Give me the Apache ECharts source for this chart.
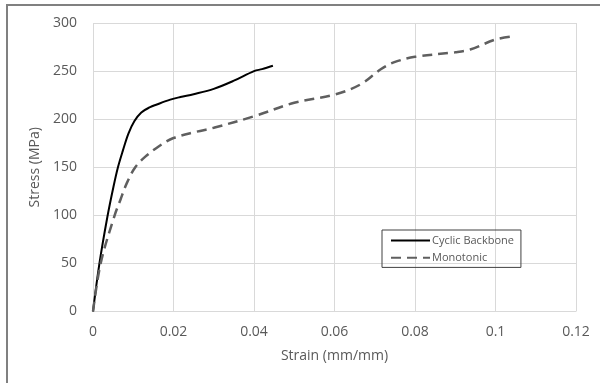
<!DOCTYPE html>
<html>
<head>
<meta charset="utf-8">
<script src="https://cdn.jsdelivr.net/npm/echarts@6/dist/echarts.min.js"></script>
<style>
  html, body { margin: 0; padding: 0; background: #fff; }
  #chart { width: 600px; height: 383px; }
</style>
</head>
<body>
<div id="chart"></div>
<script>
// stress-strain data
const cyclicStrain = [0, 0.0016, 0.0036, 0.0051, 0.0062, 0.0074, 0.0088, 0.0103, 0.0120, 0.0142, 0.0157, 0.0192, 0.0217, 0.025, 0.030, 0.035, 0.040, 0.042, 0.0447];
const cyclicStress = [0, 50, 99, 130, 150, 167, 185, 198, 207, 212.5, 215, 220.3, 223, 226, 231.5, 240, 250, 252, 255.5];

const monoStrain = [0, 0.0019, 0.0053, 0.0068, 0.0084, 0.0105, 0.013, 0.0163, 0.020, 0.0258, 0.030, 0.040, 0.050, 0.060, 0.0664, 0.0714, 0.0747, 0.080, 0.090, 0.0937, 0.100, 0.1042];
const monoStress = [0, 50, 99, 116, 133.5, 150, 161, 171.6, 180.4, 187, 191, 203, 217, 225.5, 236, 251.6, 259, 264.8, 269.6, 272.4, 282.8, 286];

const seriesNames = ['Cyclic Backbone', 'Monotonic'];
const xTickLabels = ['0', '0.02', '0.04', '0.06', '0.08', '0.1', '0.12'];

const pairs = (xs, ys) => xs.map((x, i) => [x, ys[i]]);
const font = '"Open Sans", Lato, sans-serif';
const textGrey = '#595959';

const chart = echarts.init(document.getElementById('chart'));

const option = {
  animation: false,
  textStyle: { fontFamily: font },
  graphic: [
    {
      type: 'rect',
      shape: { x: 7, y: 5, width: 700, height: 500 },
      style: { fill: 'none', stroke: '#808080', lineWidth: 2 },
      silent: true
    }
  ],
  grid: { left: 93, right: 24, top: 23, bottom: 71.5 },
  legend: {
    orient: 'vertical',
    left: 382,
    top: 230,
    data: seriesNames,
    itemWidth: 39,
    itemHeight: 14,
    itemGap: 6,
    padding: [5, 7, 4, 8],
    borderColor: '#404040',
    borderWidth: 1,
    itemStyle: { opacity: 0 },
    textStyle: { color: textGrey, fontSize: 11, fontFamily: font, padding: [0, 0, 0, -3] }
  },
  xAxis: {
    type: 'value',
    min: 0,
    max: 0.12,
    interval: 0.02,
    name: 'Strain (mm/mm)',
    nameLocation: 'middle',
    nameGap: 38,
    nameTextStyle: { color: textGrey, fontSize: 14 },
    axisLine: { show: false },
    axisTick: { show: false },
    axisLabel: {
      color: textGrey,
      fontSize: 14,
      margin: 14,
      formatter: (v) => xTickLabels[Math.round(v / 0.02)]
    },
    splitLine: { lineStyle: { color: '#d9d9d9', width: 1 } }
  },
  yAxis: {
    type: 'value',
    min: 0,
    max: 300,
    interval: 50,
    name: 'Stress (MPa)',
    nameLocation: 'middle',
    nameGap: 48,
    nameTextStyle: { color: textGrey, fontSize: 14 },
    axisLine: { show: false },
    axisTick: { show: false },
    axisLabel: { color: textGrey, fontSize: 14, margin: 16 },
    splitLine: { lineStyle: { color: '#d9d9d9', width: 1 } }
  },
  series: [
    {
      name: seriesNames[0],
      type: 'line',
      data: pairs(cyclicStrain, cyclicStress),
      showSymbol: false,
      symbol: 'none',
      smooth: 0.35,
      lineStyle: { color: '#000', width: 2 },
      itemStyle: { color: '#000' }
    },
    {
      name: seriesNames[1],
      type: 'line',
      data: pairs(monoStrain, monoStress),
      showSymbol: false,
      symbol: 'none',
      smooth: 0.35,
      lineStyle: { color: '#5f5f5f', width: 2.5, type: [10, 6] },
      itemStyle: { color: '#5f5f5f' }
    }
  ]
};

chart.setOption(option);
</script>
</body>
</html>
